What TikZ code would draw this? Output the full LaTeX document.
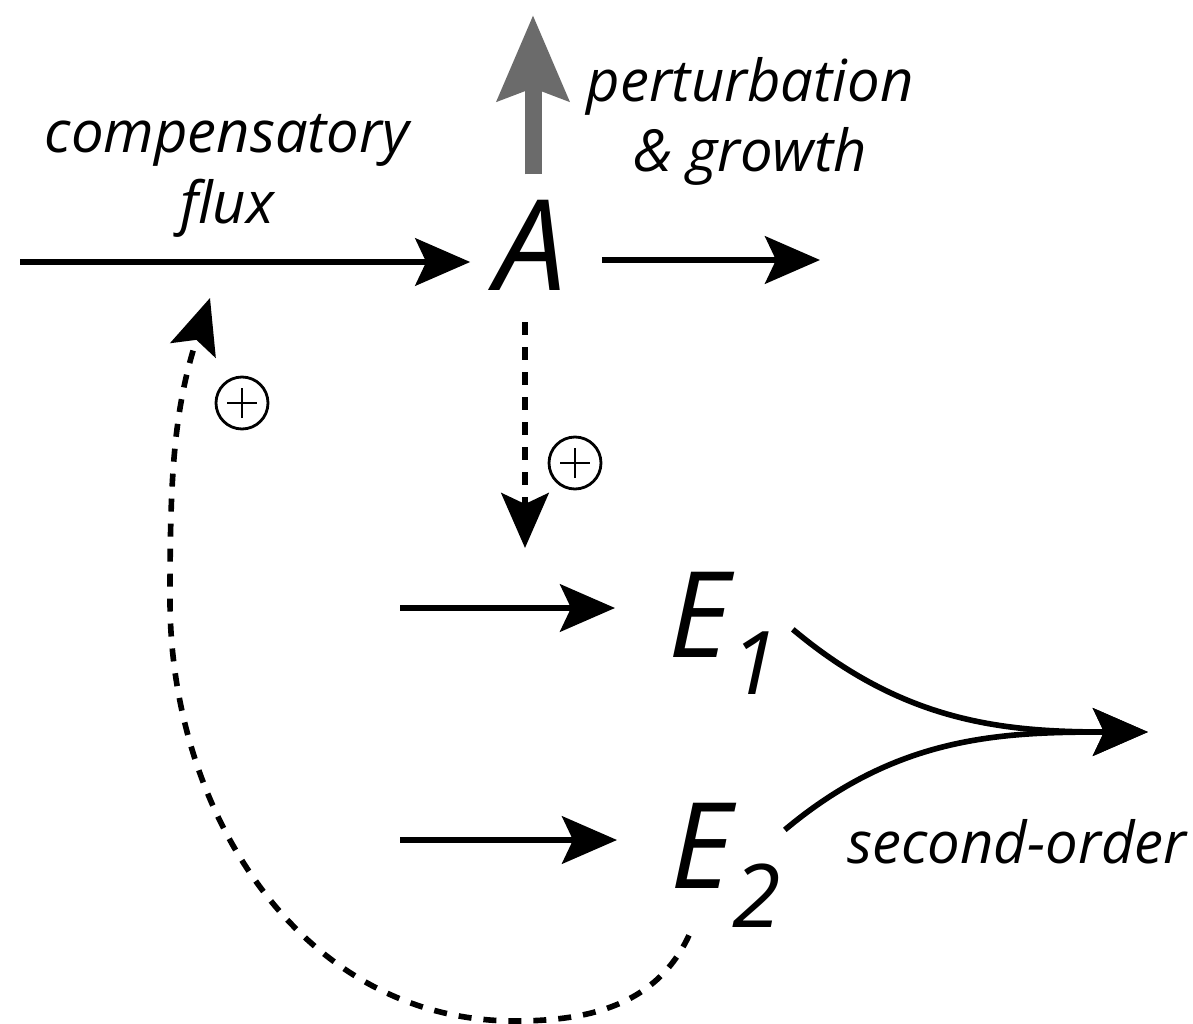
\documentclass[tikz,border=0pt]{standalone}
\usepackage{fontspec}
\setmainfont{Open Sans}
\usetikzlibrary{arrows.meta,calc}
\definecolor{growthgray}{HTML}{6B6B6B}

\begin{document}
\begin{tikzpicture}[x=0.02cm,y=0.02cm,
  lbl/.style={font=\fontsize{33}{40}\selectfont\itshape,align=center,inner sep=0pt},
  species/.style={font=\fontsize{72}{72}\selectfont\itshape,inner sep=0pt},
  enzyme/.style={species,font=\fontsize{68}{68}\selectfont\itshape},
  flow/.style={line width=3.2pt,-{Stealth[length=1.1cm,width=0.95cm,inset=0.22cm]}},
  activ/.style={flow,dash pattern=on 0.26cm off 0.24cm},
  growth/.style={growthgray,line width=0.34cm,-{Stealth[length=1.7cm,width=1.4cm,inset=0.24cm]}},
  pluscirc/.style={circle,draw,line width=1.6pt,minimum size=1.04cm,inner sep=0pt,
    path picture={\draw[line width=1.3pt]
      ([xshift=-0.3cm]path picture bounding box.center) -- ([xshift=0.3cm]path picture bounding box.center)
      ([yshift=-0.3cm]path picture bounding box.center) -- ([yshift=0.3cm]path picture bounding box.center);}}]

\useasboundingbox (0,0) rectangle (1193,-1024);

% species
\node[species,anchor=base] (A) at (531,-290) {A};
\node[enzyme,anchor=base west] (E1) at (668,-657) {E\raisebox{-0.76cm}{\fontsize{50}{50}\selectfont 1}};
\node[enzyme,anchor=base west] (E2) at (670,-888) {E\raisebox{-0.78cm}{\fontsize{50}{50}\selectfont 2}};

% free ends
\coordinate (fluxin) at (20,-262);
\coordinate (fluxout) at (820,-260);
\coordinate (grow) at (533,-15);
\coordinate (onE) at (525,-548);
\coordinate (e1in) at (400,-608);
\coordinate (e2in) at (400,-840);
\coordinate (merge) at (1148,-732);
\coordinate (fbtip) at (210,-298);

% labels
\node[lbl,anchor=base] (comp) at (227,-223) {compensatory\\flux};
\node[lbl,anchor=base] (pert) at (750,-172) {perturbation\\\& growth};
\node[lbl,anchor=base] (second) at (1017,-863) {second-order};

% fluxes through A
\draw[flow,shorten >=0.5cm] (fluxin) -- (fluxin -| A.west);
\draw[flow,shorten <=0.7cm] (A.east |- fluxout) -- (fluxout);
\draw[growth,shorten <=0.5cm] (A.north -| grow) -- (grow);
\draw[activ,shorten <=0.64cm] (A.south -| onE) -- (onE);

% fluxes into and out of E1, E2
\draw[flow,shorten >=1.06cm] (e1in) -- (e1in -| E1.west);
\draw[flow,shorten >=1.06cm] (e2in) -- (e2in -| E2.west);
\draw[flow] ([shift={(14,4)}]E1.east) to[out=-40,in=180] (merge);
\draw[flow] ([shift={(4,35)}]E2.east) to[out=40,in=180] (merge);

% feedback from E2
\draw[activ] ([shift={(19,-8)}]E2.south west) to[out=-115,in=0] (515,-1021)
  to[out=180,in=-90] (170,-600) to[out=90,in=-108] (fbtip);

\node[pluscirc] (plusfb) at (242,-403) {};
\node[pluscirc] (plusA) at (575,-463) {};

\end{tikzpicture}
\end{document}
